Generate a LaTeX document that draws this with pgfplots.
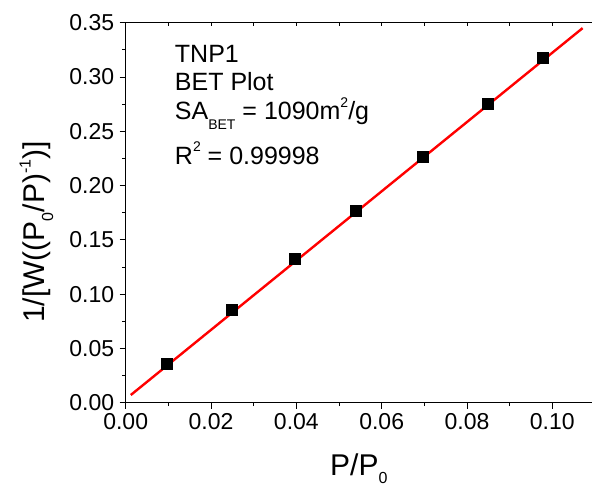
\documentclass[border=0pt]{standalone}
\usepackage{pgfplots}
\pgfplotsset{compat=1.18}
\usepackage{fontspec}
\setmainfont{Liberation Sans}
\newcommand{\lo}[1]{\raisebox{-0.38em}{\fontsize{14}{14}\selectfont #1}}
\newcommand{\hi}[1]{\raisebox{0.5em}{\fontsize{14}{14}\selectfont #1}}
\newcommand{\lob}[1]{\raisebox{-8.5pt}{\fontsize{16}{16}\selectfont #1}}
\newcommand{\hib}[1]{\raisebox{14pt}{\fontsize{16}{16}\selectfont #1}}
\pgfplotstableread{
x y
0.00968 0.0356
0.0249 0.0854
0.0397 0.1323
0.0538 0.1765
0.0695 0.2262
0.0849 0.2750
0.0978 0.3174
}\betdata
\begin{document}
\begin{tikzpicture}
\useasboundingbox (-125.7pt,-83.3pt) rectangle (466.3pt,402.7pt);
\begin{axis}[
  at={(0pt,0pt)}, anchor=south west,
  scale only axis, width=466.3pt, height=380pt,
  xmin=0, xmax=0.1093, ymin=0, ymax=0.35,
  axis x line=bottom, axis y line=left,
  axis line style={-, line width=0.9pt},
  tick style={line width=0.9pt, black},
  tick align=outside,
  major tick length=6pt, minor tick length=3.5pt,
  xtick={0,0.02,0.04,0.06,0.08,0.10},
  ytick={0,0.05,0.10,0.15,0.20,0.25,0.30,0.35},
  minor x tick num=1, minor y tick num=1,
  /pgf/number format/assume math mode=true,
  /pgf/number format/.cd, fixed, fixed zerofill, precision=2, /tikz/.cd,
  scaled ticks=false,
  ticklabel style={font=\fontsize{23}{23}\selectfont},
  xticklabel style={yshift=-1pt},
  yticklabel style={xshift=-2pt},
  xlabel={P/P\lob{0}},
  ylabel={1/[W((P\lob{0}/P)\hib{-1})]},
  label style={font=\fontsize{30}{30}\selectfont},
  xlabel style={at={(axis description cs:0.5,0)}, anchor=base, yshift=-72.5pt},
  ylabel style={at={([xshift=-81pt]axis description cs:0,0.449)}, anchor=base},
  clip=true,
]
\addplot[only marks, mark=square*, mark size=5.5pt, black] table[x=x,y=y] {\betdata};
\addplot[red, line width=2.4pt] coordinates {(0.0012,0.0071) (0.1071,0.345)};
\node[anchor=base west, inner sep=0, font=\fontsize{25}{25}\selectfont] at (axis cs:0.0115,0.3129) {TNP1};
\node[anchor=base west, inner sep=0, font=\fontsize{25}{25}\selectfont] at (axis cs:0.0115,0.2874) {BET Plot};
\node[anchor=base west, inner sep=0, font=\fontsize{25}{25}\selectfont] at (axis cs:0.0115,0.2607) {SA\lo{BET} = 1090m\hi{2}/g};
\node[anchor=base west, inner sep=0, font=\fontsize{25}{25}\selectfont] at (axis cs:0.0115,0.2197) {R\hi{2} = 0.99998};
\end{axis}
\begin{axis}[
  at={(0pt,0pt)}, anchor=south west,
  scale only axis, width=466.3pt, height=380pt,
  xmin=0, xmax=0.1093, ymin=0, ymax=0.35,
  axis x line=top, axis y line=none,
  axis line style={-, line width=0.9pt},
  tick style={line width=0.9pt, black},
  tick align=inside, major tick length=3.5pt,
  xtick={0,0.01,0.02,0.03,0.04,0.05,0.06,0.07,0.08,0.09,0.10},
  xticklabels={},
]
\end{axis}
\end{tikzpicture}
\end{document}
